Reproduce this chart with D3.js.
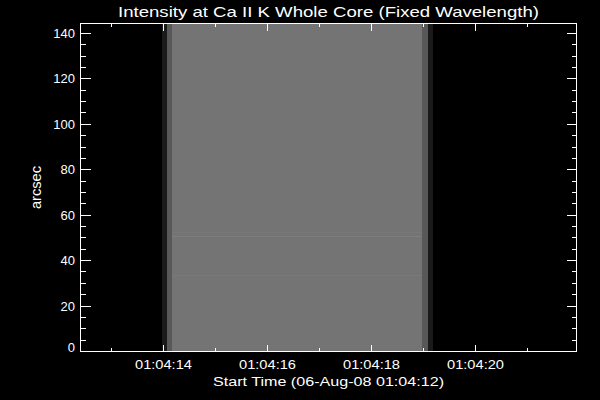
<!DOCTYPE html>
<html>
<head>
<meta charset="utf-8">
<script src="https://cdn.jsdelivr.net/npm/d3@7"></script>
<style>
  html, body { margin: 0; padding: 0; background: #000; }
  svg { display: block; }
  text { font-family: "Liberation Sans", Arial, sans-serif; fill: #fff; }
</style>
</head>
<body>
<svg id="chart" width="600" height="400"></svg>
<script>
// ---------------- data ----------------
const chartTitle = "Intensity at Ca II K Whole Core (Fixed Wavelength)";
const xTitle = "Start Time (06-Aug-08 01:04:12)";
const yTitle = "arcsec";
const startTimeUTC = Date.UTC(2008, 7, 6, 1, 4, 12);   // 06-Aug-08 01:04:12
const xDomainSec = [0.404, 9.942];                     // seconds after start
const yDomainArcsec = [0, 144.4];
const xMajorSec = [2, 4, 6, 8];
const xMinorSec = [1, 3, 5, 7, 9];
const yMajor = [0, 20, 40, 60, 80, 100, 120, 140];
const yMinor = [5, 10, 15, 25, 30, 35, 45, 50, 55, 65, 70, 75, 85, 90, 95, 105, 110, 115, 125, 130, 135];
// image columns (seconds after start) and their intensity (0 = black, 1 = white)
const colStartSec = [1.971, 2.067, 2.163, 6.971, 7.087];
const colEndSec   = [2.067, 2.163, 6.971, 7.087, 7.183];
const colIntensity = [0.10, 0.345, 0.455, 0.345, 0.10];
// faint horizontal streaks across the bright core
const streakArcsec = [33.6, 50.8, 52.5];
const streakIntensity = [0.475, 0.49, 0.47];

// ---------------- scales ----------------
const svg = d3.select("#chart");
const L = 80.5, R = 576.5, T = 23.5, B = 351.5;
const toDate = s => new Date(startTimeUTC + s * 1000);
const x = d3.scaleUtc().domain(xDomainSec.map(toDate)).range([L, R]);
const y = d3.scaleLinear().domain(yDomainArcsec).range([B, T]);
const gray = d3.scaleLinear().domain([0, 1]).range(["#000000", "#ffffff"]);
const fmt = d3.utcFormat("%H:%M:%S");

// ---------------- image ----------------
const cols = colStartSec.map((s, i) => ({ s, e: colEndSec[i], v: colIntensity[i] }));
svg.append("g").selectAll("rect").data(cols).join("rect")
  .attr("x", d => Math.round(x(toDate(d.s))))
  .attr("width", d => Math.round(x(toDate(d.e))) - Math.round(x(toDate(d.s))))
  .attr("y", Math.round(y(yDomainArcsec[1])))
  .attr("height", Math.round(y(0)) - Math.round(y(yDomainArcsec[1])))
  .attr("fill", d => gray(d.v))
  .attr("shape-rendering", "crispEdges");

const core = cols[2];
const streaks = streakArcsec.map((a, i) => ({ a, v: streakIntensity[i] }));
svg.append("g").selectAll("rect").data(streaks).join("rect")
  .attr("x", Math.round(x(toDate(core.s))))
  .attr("width", Math.round(x(toDate(core.e))) - Math.round(x(toDate(core.s))))
  .attr("y", d => Math.round(y(d.a)))
  .attr("height", 1)
  .attr("fill", d => gray(d.v))
  .attr("shape-rendering", "crispEdges");

// ---------------- axes ----------------
const axG = svg.append("g").attr("stroke", "#fff").attr("stroke-width", 1).attr("shape-rendering", "crispEdges");
axG.append("rect").attr("x", L).attr("y", T).attr("width", R - L).attr("height", B - T).attr("fill", "none");

const xTickLen = { major: 7, minor: 3.5 };
const yTickLen = { major: 10, minor: 5 };
function xTicks(arr, len) {
  arr.forEach(s => {
    const px = x(toDate(s));
    axG.append("line").attr("x1", px).attr("x2", px).attr("y1", B).attr("y2", B - len);
    axG.append("line").attr("x1", px).attr("x2", px).attr("y1", T).attr("y2", T + len);
  });
}
function yTicks(arr, len) {
  arr.forEach(v => {
    const py = y(v);
    axG.append("line").attr("x1", L).attr("x2", L + len).attr("y1", py).attr("y2", py);
    axG.append("line").attr("x1", R).attr("x2", R - len).attr("y1", py).attr("y2", py);
  });
}
xTicks(xMajorSec, xTickLen.major);
xTicks(xMinorSec, xTickLen.minor);
yTicks(yMajor, yTickLen.major);
yTicks(yMinor, yTickLen.minor);

// tick labels
svg.append("g").selectAll("text").data(xMajorSec).join("text")
  .attr("x", d => x(toDate(d)))
  .attr("y", 369)
  .attr("text-anchor", "middle")
  .attr("font-size", 13)
  .attr("textLength", 57)
  .attr("lengthAdjust", "spacingAndGlyphs")
  .text(d => fmt(toDate(d)));

svg.append("g").selectAll("text").data(yMajor).join("text")
  .attr("x", 75)
  .attr("y", d => Math.min(y(d) + 4.5, B))
  .attr("text-anchor", "end")
  .attr("font-size", 13)
  .text(d => d);

// titles
svg.append("text")
  .attr("x", 328.5).attr("y", 17)
  .attr("text-anchor", "middle")
  .attr("font-size", 15)
  .attr("textLength", 421)
  .attr("lengthAdjust", "spacingAndGlyphs")
  .text(chartTitle);

svg.append("text")
  .attr("x", 328.5).attr("y", 386)
  .attr("text-anchor", "middle")
  .attr("font-size", 12.5)
  .attr("textLength", 231)
  .attr("lengthAdjust", "spacingAndGlyphs")
  .text(xTitle);

svg.append("text")
  .attr("transform", `translate(40.7, ${(T + B) / 2}) rotate(-90)`)
  .attr("text-anchor", "middle")
  .attr("font-size", 14)
  .attr("textLength", 43)
  .attr("lengthAdjust", "spacingAndGlyphs")
  .text(yTitle);
</script>
</body>
</html>
